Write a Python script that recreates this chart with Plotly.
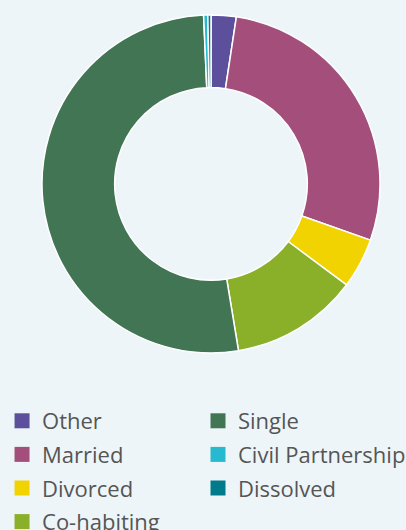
import plotly.graph_objects as go

# slice order, clockwise from 12 o'clock
labels = ["Other", "Married", "Divorced", "Co-habiting", "Single",
          "Civil Partnership", "Dissolved"]
shares = [2.4, 28.0, 4.8, 12.2, 51.9, 0.4, 0.3]
colors = ["#5c4f9c", "#a34e7b", "#f0d300", "#8ab02a", "#417554",
          "#27b9d0", "#007b8b"]

# legend columns as in the reference
left_col = ["Other", "Married", "Divorced", "Co-habiting"]
right_col = ["Single", "Civil Partnership", "Dissolved"]

bg = "#eef5f8"

fig = go.Figure()

fig.add_trace(go.Pie(
    labels=labels, values=shares, sort=False, direction="clockwise",
    rotation=0, hole=0.57, textinfo="none", showlegend=False,
    marker=dict(colors=colors, line=dict(color="white", width=1.5)),
    domain=dict(x=[0.1034, 0.936], y=[0.334, 0.972]),
))

# dummy traces so the legend can be split into two columns
for col, leg in [(left_col, "legend"), (right_col, "legend2")]:
    for name in col:
        fig.add_trace(go.Scatter(
            x=[None], y=[None], mode="markers", name=name,
            legend=leg, legendgroup=name,
            marker=dict(symbol="square", size=15,
                        color=colors[labels.index(name)]),
        ))

leg_style = dict(yanchor="top", y=0.2453, xanchor="left", itemclick=False,
                 bgcolor="rgba(0,0,0,0)", tracegroupgap=2)

fig.update_layout(
    width=406, height=530,
    paper_bgcolor=bg, plot_bgcolor=bg,
    margin=dict(l=0, r=0, t=0, b=0, autoexpand=False),
    xaxis=dict(visible=False), yaxis=dict(visible=False),
    font=dict(family="Open Sans", size=22, color="#555555"),
    legend=dict(x=0.005, **leg_style),
    legend2=dict(x=0.4877, **leg_style),
)

fig.write_html("out.html", config={"displayModeBar": False},
               post_script="document.body.style.margin='0';")
